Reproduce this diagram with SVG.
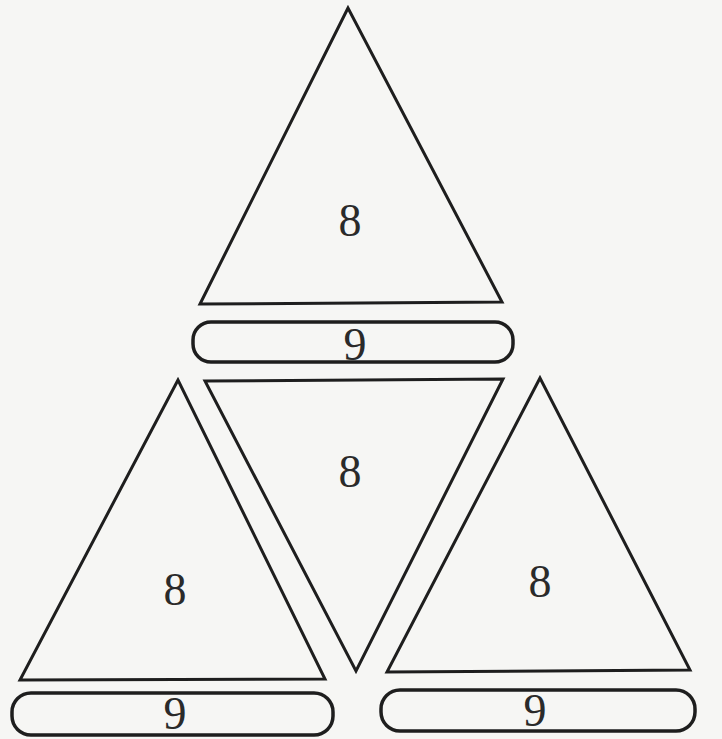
<svg xmlns="http://www.w3.org/2000/svg" width="722" height="739" viewBox="0 0 722 739">
<style>
.s{fill:none;stroke:#1e1e1e;stroke-width:3;stroke-linejoin:miter}
.p{fill:none;stroke:#1e1e1e;stroke-width:3.5}
.t{font-family:"Liberation Serif",serif;font-size:46px;fill:#2a2a2a;text-anchor:middle}
</style>
<rect width="722" height="739" fill="#f6f6f4"/>
<g id="tri-top">
<polygon class="s" points="348,8 200,304 502,302"/>
<text class="t" x="350" y="236">8</text>
</g>
<g id="pill-top">
<rect class="p" x="193" y="322" width="320" height="40" rx="18"/>
<text class="t" x="355" y="360">9</text>
</g>
<g id="tri-left">
<polygon class="s" points="178,380 20,680 325,679"/>
<text class="t" x="175" y="605">8</text>
</g>
<g id="tri-mid">
<polygon class="s" points="205,381 503,379 356,671"/>
<text class="t" x="350" y="487">8</text>
</g>
<g id="tri-right">
<polygon class="s" points="540,378 387,672 690,670"/>
<text class="t" x="540" y="597">8</text>
</g>
<g id="pill-left">
<rect class="p" x="12" y="693" width="321" height="42" rx="19"/>
<text class="t" x="175" y="729">9</text>
</g>
<g id="pill-right">
<rect class="p" x="381" y="690" width="314" height="41" rx="19"/>
<text class="t" x="535" y="726">9</text>
</g>
<g id="connectors"></g>
</svg>
